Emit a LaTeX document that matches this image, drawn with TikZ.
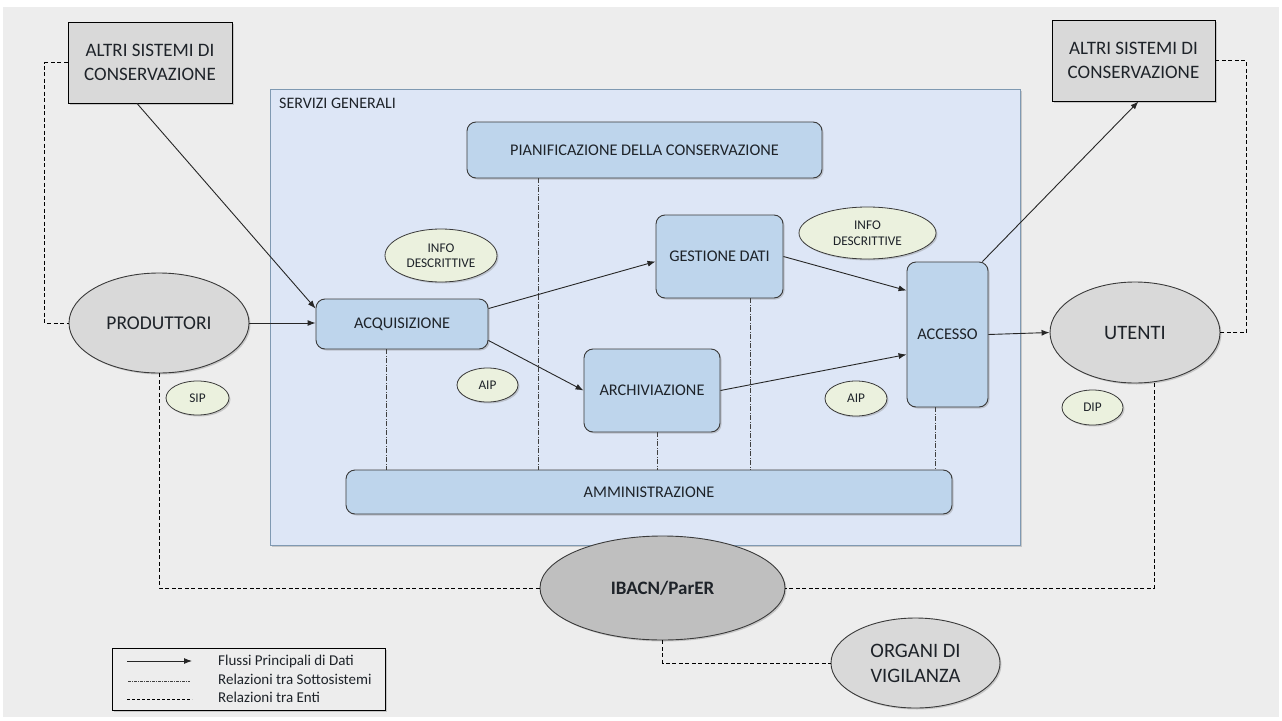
\documentclass[tikz,border=0pt]{standalone}
\usepackage{fontspec}
\setmainfont{Carlito}
\usetikzlibrary{shapes.geometric,shadows,arrows.meta,calc}

\definecolor{bgfill}{HTML}{EDEDED}
\definecolor{contfill}{HTML}{DDE6F6}
\definecolor{contborder}{HTML}{7F99B2}
\definecolor{boxblue}{HTML}{BED5EC}
\definecolor{edgecol}{HTML}{3A3A3A}
\definecolor{entgray}{HTML}{D9D9D9}
\definecolor{ibgray}{HTML}{BFBFBF}
\definecolor{pkggreen}{HTML}{EBF1DE}
\definecolor{txtcol}{HTML}{1E2329}
\definecolor{relcol}{HTML}{404040}

\tikzset{
  shd/.style={drop shadow={opacity=0.35,shadow xshift=1.5pt,shadow yshift=-1.5pt}},
  boxsub/.style={rectangle, rounded corners=9pt, draw=edgecol, line width=0.9pt,
    fill=boxblue, shd, inner sep=0pt, text=txtcol,
    font=\fontsize{16.3}{19}\selectfont},
  entity/.style={ellipse, draw=edgecol, line width=0.9pt, fill=entgray, shd,
    inner sep=0pt, text=txtcol, align=center, font=\fontsize{19.5}{24}\selectfont},
  pkgell/.style={ellipse, draw=edgecol, line width=0.8pt, fill=pkggreen, shd,
    inner sep=0pt, text=txtcol, align=center, font=\fontsize{13.3}{15.5}\selectfont},
  extbox/.style={rectangle, draw=black, line width=0.9pt, fill=entgray, shd,
    inner sep=0pt, text=txtcol, align=center, font=\fontsize{19}{24}\selectfont},
  flowline/.style={draw=black!85, line width=0.9pt, -{Latex[length=8pt,width=6pt]}},
  relsub/.style={draw=relcol, line width=0.8pt, dash pattern=on 5pt off 1.5pt on 1pt off 1.5pt},
  relent/.style={draw=black, line width=0.8pt, dash pattern=on 4pt off 2.5pt},
  legtext/.style={anchor=west, inner sep=0pt, text=txtcol, font=\fontsize{15}{17}\selectfont},
}

\begin{document}
\begin{tikzpicture}[x=1pt,y=-1pt]
\useasboundingbox (0,0) rectangle (1282,720);
\fill[bgfill] (3,7) rectangle (1279,717);

% general services container
\node[rectangle, draw=contborder, fill=contfill, line width=1pt, inner sep=0pt,
      minimum width=750pt, minimum height=456pt, shd] (srv) at (645,317) {};
\node[anchor=west, inner sep=0pt, text=txtcol, font=\fontsize{16}{18}\selectfont]
      (srvlab) at (279,103) {SERVIZI GENERALI};

% functional subsystems
\node[boxsub, minimum width=355pt, minimum height=56pt] (pian) at (644.5,150) {PIANIFICAZIONE DELLA CONSERVAZIONE};
\node[boxsub, minimum width=127pt, minimum height=83pt] (gest) at (719.5,256.5) {GESTIONE DATI};
\node[boxsub, minimum width=172pt, minimum height=50pt] (acq) at (402,324) {ACQUISIZIONE};
\node[boxsub, minimum width=136pt, minimum height=83pt] (arch) at (652,390.5) {ARCHIVIAZIONE};
\node[boxsub, minimum width=81pt, minimum height=145pt] (acc) at (947.5,334.5) {ACCESSO};
\node[boxsub, minimum width=606pt, minimum height=44pt] (amm) at (649,492) {AMMINISTRAZIONE};

% information packages
\node[pkgell, minimum width=112pt, minimum height=53pt] (infoL) at (441,255.5) {INFO\\DESCRITTIVE};
\node[pkgell, minimum width=137pt, minimum height=52pt] (infoR) at (867.5,233) {INFO\\DESCRITTIVE};
\node[pkgell, minimum width=61pt, minimum height=34pt] (aipL) at (487.5,385) {AIP};
\node[pkgell, minimum width=62pt, minimum height=35pt] (aipR) at (856,398.5) {AIP};
\node[pkgell, minimum width=63pt, minimum height=34pt] (sip) at (197.5,398) {SIP};
\node[pkgell, minimum width=61pt, minimum height=35pt] (dip) at (1092.5,407.5) {DIP};

% external entities
\node[extbox, minimum width=164pt, minimum height=81pt] (altL) at (150,62.5) {ALTRI SISTEMI DI\\CONSERVAZIONE};
\node[extbox, minimum width=163pt, minimum height=81pt] (altR) at (1133.5,60.5) {ALTRI SISTEMI DI\\CONSERVAZIONE};
\node[entity, minimum width=180pt, minimum height=100pt] (prod) at (159,323) {PRODUTTORI};
\node[entity, minimum width=170pt, minimum height=101pt, font=\fontsize{20.5}{24}\selectfont] (ute) at (1135,332.5) {UTENTI};
\node[entity, fill=ibgray, minimum width=245pt, minimum height=104pt,
      font=\fontsize{19}{22}\selectfont\bfseries] (ibacn) at (662.5,588) {IBACN/ParER};
\node[entity, minimum width=169pt, minimum height=90pt, font=\fontsize{20.5}{25}\selectfont] (org) at (915.5,663) {ORGANI DI\\VIGILANZA};

% main data flows
\draw[flowline] ([xshift=-13pt]altL.south) -- ([yshift=-10pt]acq.north west);
\draw[flowline] (prod.east) -- (prod.east -| acq.west);
\draw[flowline] ([yshift=-10pt]acq.north east) -- ([yshift=-5pt]gest.west);
\draw[flowline] ([yshift=9pt]acq.south east) -- (arch.west);
\draw[flowline] (gest.east) -- ([yshift=44pt]acc.west);
\draw[flowline] (arch.east) -- ([yshift=-20pt]acc.west);
\draw[flowline] (acc.east) -- (ute.west);
\draw[flowline] ([xshift=-6pt]acc.north east) -- ([xshift=5pt]altR.south);

% relations between subsystems
\path ([xshift=-16pt]acq.south) coordinate (r1)
      ([xshift=-106.5pt]pian.south) coordinate (r2)
      ([xshift=5pt]arch.south) coordinate (r3)
      ([xshift=30.5pt]gest.south) coordinate (r4)
      ([xshift=-12.5pt]acc.south) coordinate (r5);
\foreach \r in {r1,r2,r3,r4,r5}
  \draw[relsub] (\r) -- (\r |- amm.north);

% relations between bodies
\draw[relent] (altL.west) -- ++(-23,0) |- (prod.west);
\draw[relent] (altR.east) -- ++(31,0) |- (ute.east);
\draw[relent] (prod.south) |- (ibacn.west);
\draw[relent] ([xshift=19pt]ute.south) |- (ibacn.east);
\draw[relent] (ibacn.south) |- (org.west);

% legend
\node[rectangle, draw=black, fill=bgfill, line width=0.8pt, inner sep=0pt,
      minimum width=273pt, minimum height=62pt, shd] (leg) at (248.5,679) {};
\coordinate (l1a) at (127,661); \coordinate (l1b) at (192,661);
\coordinate (l2a) at (128,681); \coordinate (l2b) at (190,681);
\coordinate (l3a) at (127,699); \coordinate (l3b) at (192,699);
\draw[flowline] (l1a) -- (l1b);
\draw[relsub, line width=0.6pt, dash pattern=on 3pt off 1pt on 1pt off 1pt] (l2a) -- (l2b);
\draw[relent, line width=0.6pt, dash pattern=on 3pt off 2pt] (l3a) -- (l3b);
\node[legtext] (t1) at (218,661) {Flussi Principali di Dati};
\node[legtext] (t2) at (218,679) {Relazioni tra Sottosistemi};
\node[legtext] (t3) at (218,697) {Relazioni tra Enti};
\end{tikzpicture}
\end{document}
